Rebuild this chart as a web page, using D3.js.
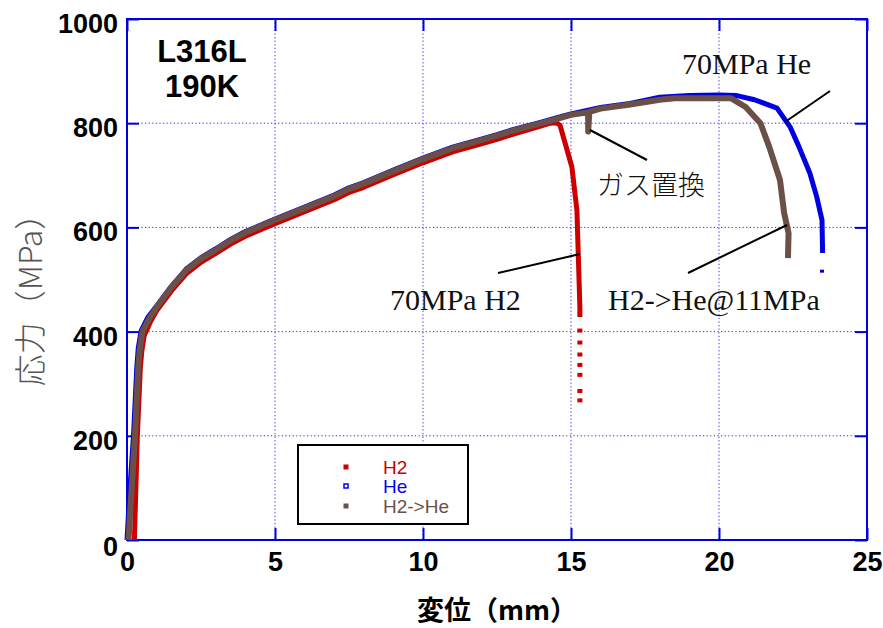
<!DOCTYPE html>
<html><head><meta charset="utf-8">
<script src="https://cdn.jsdelivr.net/npm/d3@7"></script>
<style>body{margin:0;background:#fff}svg{display:block}</style>
</head><body>
<svg id="c" width="883" height="628"></svg>
<script>
// ---- data (displacement mm, stress MPa) ----
const xTicks = [0, 5, 10, 15, 20, 25];
const yTicks = [0, 200, 400, 600, 800, 1000];
const seriesNames = ["H2", "He", "H2->He"];

const h2Disp   = [0.25,0.35,0.45,0.5,0.58,0.8,1.0,1.5,2,2.5,3,3.5,4,4.5,5,6,7,7.5,8,9,10,11,12,12.5,13,14,14.3,14.5,14.63,14.8,15.03,15.2,15.3,15.3];
const h2Stress = [0,200,330,362,392,420,440,478,511,533,550,568,583,595,607,630,653,667,677,701,724,745,761,769,778,795,800,801,796,762,716,633,447,428];
const h2TailDisp   = [15.3,15.3,15.3,15.3,15.3,15.3,15.3];
const h2TailStress = [402,379,356,336,317,286,268];

const heDisp   = [0.0,0.02,0.1,0.22,0.33,0.38,0.48,0.7,1.0,1.5,2,2.5,3,3.5,4,4.5,5,6,7,7.5,8,9,10,11,12,12.5,13,14,14.5,15,16,17,18,19,20,20.6,21.2,21.96,22.4,22.7,23.07,23.3,23.48,23.5];
const heStress = [0,20,100,200,330,368,402,427,449,487,520,542,559,577,592,604,616,639,662,676,686,710,733,754,770,778,787,802,810,818,830,838,850,853,854,853,845,829,793,755,704,659,614,551];
const heTailDisp   = [23.48];
const heTailStress = [516];

const swDisp   = [0.05,0.27,0.38,0.43,0.52,0.75,1.0,1.5,2,2.5,3,3.5,4,4.5,5,6,7,7.5,8,9,10,11,12,12.5,13,14,14.5,15,15.58,15.58,15.62,16,17,18,18.5,20.4,20.9,21.4,21.7,22.06,22.2,22.35,22.33];
const swStress = [0,200,330,365,400,425,447,485,518,540,557,575,590,602,614,637,660,674,684,708,731,752,768,776,785,800,808,816,821,784,822,828,836,845,848,848,831,800,754,691,628,589,541];

// ---- layout ----
const svg = d3.select("#c");
const x = d3.scaleLinear().domain([0, 25]).range([127, 867]);
const y = d3.scaleLinear().domain([0, 1000]).range([540, 19]);
const FRAME = "#0000dd";
const COL = {h2: "#cc0000", he: "#0000e0", sw: "#6b5048"};

// grid
const grid = svg.append("g");
grid.selectAll("line.gx").data(xTicks.slice(1, -1)).join("line")
  .attr("x1", d => x(d)).attr("x2", d => x(d)).attr("y1", y(1000)).attr("y2", y(0))
  .attr("stroke", "#2a2af5").attr("stroke-width", 1).attr("stroke-dasharray", "1.2,2.4");
grid.selectAll("line.gy").data(yTicks.slice(1, -1)).join("line")
  .attr("y1", d => y(d)).attr("y2", d => y(d)).attr("x1", x(0)).attr("x2", x(25))
  .attr("stroke", "#2a2af5").attr("stroke-width", 1).attr("stroke-dasharray", "1.2,2.4");

// axes
const tickFont = "'Liberation Sans', Arial, sans-serif";
const ax = svg.append("g").attr("transform", `translate(0,${y(0)})`)
  .call(d3.axisBottom(x).tickValues(xTicks).tickSize(-12).tickPadding(12).tickFormat(d3.format("d")));
const axT = svg.append("g").attr("transform", `translate(0,${y(1000)})`)
  .call(d3.axisTop(x).tickValues(xTicks).tickSize(-12).tickFormat(""));
const ay = svg.append("g").attr("transform", `translate(${x(0)},0)`)
  .call(d3.axisLeft(y).tickValues(yTicks).tickSize(-12).tickPadding(9).tickFormat(d3.format("d")));
const ayR = svg.append("g").attr("transform", `translate(${x(25)},0)`)
  .call(d3.axisRight(y).tickValues(yTicks).tickSize(-12).tickFormat(""));
[ax, axT, ay, ayR].forEach(g => {
  g.select(".domain").remove();
  g.selectAll(".tick line").attr("stroke", FRAME).attr("stroke-width", 2);
  g.selectAll(".tick text").attr("fill", "#000").style("font-family", tickFont)
    .style("font-size", "27px").style("font-weight", "bold");
});
ay.selectAll(".tick text").attr("dy", "0.5em");
ay.selectAll(".tick").filter(d => d === 0).select("text").attr("dy", "0.58em");

// frame
svg.append("rect").attr("x", x(0)).attr("y", y(1000)).attr("width", x(25) - x(0)).attr("height", y(0) - y(1000))
  .attr("fill", "none").attr("stroke", FRAME).attr("stroke-width", 2);

// curves
const line = d3.line().x(d => x(d[0])).y(d => y(d[1]));
const zip = (a, b) => a.map((v, i) => [v, b[i]]);
const plot = (dx, dy, col, w) => svg.append("path").datum(zip(dx, dy)).attr("d", line)
  .attr("fill", "none").attr("stroke", col).attr("stroke-width", w).attr("stroke-linejoin", "round");
plot(h2Disp, h2Stress, COL.h2, 5);
svg.selectAll("rect.h2t").data(zip(h2TailDisp, h2TailStress)).join("rect")
  .attr("x", d => x(d[0]) - 2.5).attr("y", d => y(d[1]) - 2).attr("width", 5).attr("height", 4).attr("fill", COL.h2);
plot(heDisp, heStress, COL.he, 5);
svg.selectAll("rect.het").data(zip(heTailDisp, heTailStress)).join("rect")
  .attr("x", d => x(d[0]) - 2).attr("y", d => y(d[1]) - 1.5).attr("width", 4).attr("height", 3).attr("fill", COL.he);
plot(swDisp, swStress, COL.sw, 6);

// annotations
const serif = "'Liberation Serif', 'Times New Roman', serif";
const lead = (x1, y1, x2, y2) => svg.append("line").attr("x1", x1).attr("y1", y1).attr("x2", x2).attr("y2", y2)
  .attr("stroke", "#000").attr("stroke-width", 2);
lead(830, 91, 785, 122);
lead(590, 130, 647, 160);
lead(688, 273, 787, 225);
lead(498, 273, 580, 254);
const ann = (t, xx, yy, fam, size, anchor) => svg.append("text").attr("x", xx).attr("y", yy).text(t)
  .style("font-family", fam).style("font-size", size + "px").attr("text-anchor", anchor || "start").attr("fill", "#111");
ann("70MPa He", 682, 74, serif, 30);
ann("70MPa H2", 390, 310, serif, 30);
ann("H2->He@11MPa", 608, 310, serif, 30);
ann("ガス置換", 597, 195, "'Noto Sans CJK JP', sans-serif", 27).style("font-weight", 300);

// sample label
svg.append("text").attr("x", 202).attr("y", 62).attr("text-anchor", "middle").text("L316L")
  .style("font-family", tickFont).style("font-size", "31px").style("font-weight", "bold");
svg.append("text").attr("x", 202).attr("y", 97).attr("text-anchor", "middle").text("190K")
  .style("font-family", tickFont).style("font-size", "31px").style("font-weight", "bold");

// axis titles
svg.append("text").attr("x", 497).attr("y", 620).attr("text-anchor", "middle").text("変位（mm）")
  .style("font-family", "'Noto Sans CJK JP', sans-serif").style("font-size", "27px").style("font-weight", "bold");
svg.append("text").attr("transform", "translate(42,292) rotate(-90)").attr("text-anchor", "middle").text("応力（MPa）")
  .attr("fill", "#555").style("font-family", "'Noto Sans CJK JP', sans-serif").style("font-size", "32px").style("font-weight", 300);

// legend
const lg = svg.append("g");
lg.append("rect").attr("x", 298).attr("y", 445).attr("width", 170).attr("height", 79)
  .attr("fill", "#fff").attr("stroke", "#000").attr("stroke-width", 2);
const lcols = [COL.h2, "#0000ff", COL.sw];
const lrows = [467, 486, 506];
seriesNames.forEach((n, i) => {
  if (i === 1) {
    lg.append("rect").attr("x", 344).attr("y", lrows[i] - 2).attr("width", 4).attr("height", 4)
      .attr("fill", "#fff").attr("stroke", lcols[i]).attr("stroke-width", 1.5);
  } else {
    lg.append("rect").attr("x", 343.5).attr("y", lrows[i] - 2.5).attr("width", 5).attr("height", 5).attr("fill", lcols[i]);
  }
  lg.append("text").attr("x", 383).attr("y", lrows[i] + 7).text(n).attr("fill", lcols[i])
    .style("font-family", tickFont).style("font-size", "19px");
});
</script>
</body></html>
